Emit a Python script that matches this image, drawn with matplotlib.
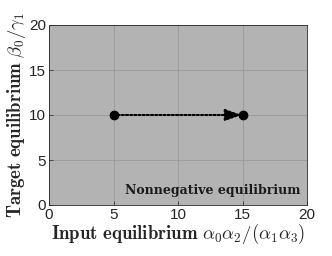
import matplotlib
matplotlib.use('Agg')
import matplotlib.pyplot as plt

plt.rcParams['mathtext.fontset'] = 'cm'
plt.rcParams['font.family'] = 'Liberation Sans'

# data
start = (5, 10)
end = (15, 10)
xticks = [0, 5, 10, 15, 20]
yticks = [0, 5, 10, 15, 20]
region_label = 'Nonnegative equilibrium'

fig = plt.figure(figsize=(3.32, 2.56), dpi=100, facecolor='white')
ax = fig.add_axes([49 / 332, 1 - 205 / 256, 258 / 332, 180 / 256])

ax.set_facecolor('#b3b3b3')
ax.set_xlim(0, 20)
ax.set_ylim(0, 20)
ax.set_xticks(xticks)
ax.set_yticks(yticks)
ax.grid(True, color='#999999', linewidth=0.6)
ax.set_axisbelow(True)
ax.tick_params(direction='in', length=3, width=0.5, labelsize=11,
               colors='#262626', pad=2)
for s in ax.spines.values():
    s.set_linewidth(0.6)
    s.set_color('#262626')

# dotted trajectory with arrow
ax.annotate('', xy=(end[0] - 0.05, end[1]), xytext=start,
            arrowprops=dict(arrowstyle='-|>,head_length=1.0,head_width=0.35',
                            linestyle=(0, (1, 1)), linewidth=1.5, color='black',
                            shrinkA=0, shrinkB=0))
ax.plot([start[0], end[0]], [start[1], end[1]], 'o', color='black',
        markersize=6, linestyle='none', zorder=5)

ax.text(19.5, 1.6, region_label, ha='right', va='center', fontsize=9,
        fontweight='bold', family='DejaVu Serif', color='#1a1a1a')

ax.set_xlabel(r'$\mathbf{Input\ equilibrium}\ \alpha_0\alpha_2/(\alpha_1\alpha_3)$',
              fontsize=13.5, labelpad=0, color='#262626')
ax.set_ylabel(r'$\mathbf{Target\ equilibrium}\ \beta_0/\gamma_1$',
              fontsize=13.5, labelpad=1, color='#262626')

fig.savefig('out.png', dpi=100)
